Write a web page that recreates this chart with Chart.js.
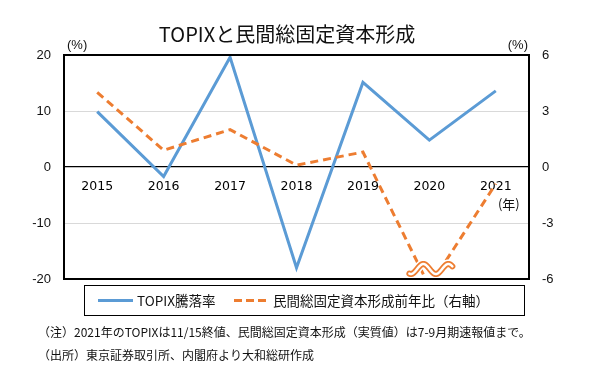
<!DOCTYPE html>
<html><head><meta charset="utf-8">
<script src="https://cdn.jsdelivr.net/npm/chart.js@4.4.1/dist/chart.umd.min.js"></script>
<style>html,body{margin:0;padding:0;background:#fff;}canvas{display:block;}</style>
</head><body>
<canvas id="c" width="593" height="392"></canvas>
<script>
const categories = ['2015', '2016', '2017', '2018', '2019', '2020', '2021'];
const topixChange = [9.9, -1.7, 19.6, -18.0, 15.1, 4.8, 13.6];
const privateGfcf = [4.0, 0.9, 2.0, 0.1, 0.8, -6.4, -0.9];
const leftTicks = [-20, -10, 0, 10, 20];
const rightTicks = [-6, -3, 0, 3, 6];
const seriesNames = ['TOPIX騰落率', '民間総固定資本形成前年比（右軸）'];
const titleText = 'TOPIXと民間総固定資本形成';
const unitText = '(%)';
const yearText = '(年)';
const notes = [
  '（注）2021年のTOPIXは11/15終値、民間総固定資本形成（実質値）は7-9月期速報値まで。',
  '（出所）東京証券取引所、内閣府より大和総研作成'
];
const breakIndex = 5; // 2020 value falls below the right axis range

const BLUE = '#5B9BD5', ORANGE = '#ED7D31';
const CJK = '"Noto Sans CJK JP", "Noto Sans", sans-serif';

const decor = {
  id: 'decor',
  afterDraw(chart) {
    const { ctx, chartArea: a, scales } = chart;
    const xs = scales.x;
    ctx.save();
    // axis break wave at the off-scale point
    const cx = xs.getPixelForValue(breakIndex);
    const cy = a.bottom - 10;
    const wave = () => {
      ctx.beginPath();
      for (let dx = -20; dx <= 23; dx += 0.5) {
        const y = cy - 5 * Math.cos(2 * Math.PI * (dx + 6) / 25);
        if (dx === -20) ctx.moveTo(cx + dx, y); else ctx.lineTo(cx + dx, y);
      }
    };
    ctx.lineCap = 'round';
    wave(); ctx.strokeStyle = '#fff'; ctx.lineWidth = 9; ctx.stroke();
    wave(); ctx.strokeStyle = ORANGE; ctx.lineWidth = 6; ctx.stroke();
    wave(); ctx.strokeStyle = '#fff'; ctx.lineWidth = 2.5; ctx.stroke();

    // plot frame
    ctx.lineCap = 'butt';
    ctx.strokeStyle = '#000';
    ctx.lineWidth = 2;
    ctx.strokeRect(a.left, a.top, a.right - a.left, a.bottom - a.top);

    // title
    ctx.fillStyle = '#111';
    ctx.textBaseline = 'middle';
    ctx.textAlign = 'center';
    ctx.font = '20px ' + CJK;
    ctx.fillText(titleText, 287, 34);

    // unit labels
    ctx.font = '13px "Liberation Sans", sans-serif';
    ctx.textAlign = 'left';
    ctx.fillText(unitText, a.left + 3, 45);
    ctx.textAlign = 'right';
    ctx.fillText(unitText, a.right - 1, 45);

    // year label
    ctx.textAlign = 'center';
    ctx.font = '13px ' + CJK;
    ctx.fillText(yearText, xs.getPixelForValue(categories.length - 1) + 13, 204);

    // legend box
    ctx.strokeStyle = '#000';
    ctx.lineWidth = 1;
    ctx.strokeRect(84.5, 285.5, 440, 30);
    const ly = 300.5;
    ctx.lineWidth = 3;
    ctx.strokeStyle = BLUE;
    ctx.beginPath(); ctx.moveTo(98, ly); ctx.lineTo(133, ly); ctx.stroke();
    ctx.strokeStyle = ORANGE;
    ctx.setLineDash([8, 4]);
    ctx.beginPath(); ctx.moveTo(234, ly); ctx.lineTo(266, ly); ctx.stroke();
    ctx.setLineDash([]);
    ctx.textAlign = 'left';
    ctx.fillStyle = '#111';
    ctx.font = '13.5px ' + CJK;
    ctx.fillText(seriesNames[0], 137, ly);
    ctx.fillText(seriesNames[1], 273, ly);

    // notes
    ctx.font = '12px ' + CJK;
    ctx.fillText(notes[0], 38, 332);
    ctx.fillText(notes[1], 38, 355);
    ctx.restore();
  }
};

new Chart(document.getElementById('c'), {
  type: 'line',
  data: {
    labels: categories,
    datasets: [
      { label: seriesNames[0], data: topixChange, yAxisID: 'y', borderColor: BLUE, backgroundColor: BLUE,
        borderWidth: 3, pointRadius: 0, tension: 0, fill: false, order: 1 },
      { label: seriesNames[1], data: privateGfcf, yAxisID: 'y1', borderColor: ORANGE, backgroundColor: ORANGE,
        borderWidth: 3, borderDash: [8, 5], pointRadius: 0, tension: 0, fill: false, order: 0 }
    ]
  },
  options: {
    responsive: false,
    animation: false,
    devicePixelRatio: 1,
    layout: { padding: { top: 55, bottom: 113, left: 0, right: 0 } },
    plugins: { legend: { display: false }, title: { display: false }, tooltip: { enabled: false } },
    scales: {
      x: {
        type: 'category',
        position: { y: 0 },
        offset: true,
        grid: { display: false, drawTicks: false },
        border: { display: false },
        ticks: { padding: 12, color: '#000', maxRotation: 0, autoSkip: false,
                 font: { family: 'DejaVu Sans', size: 12.5 } }
      },
      y: {
        position: 'left',
        min: -20, max: 20,
        afterBuildTicks: s => { s.ticks = leftTicks.map(v => ({ value: v })); },
        afterFit: s => { s.width = 64; },
        grid: { color: c => c.tick.value === 0 ? '#000' : '#d9d9d9', lineWidth: c => c.tick.value === 0 ? 1.3 : 1, drawTicks: false },
        border: { display: false },
        ticks: { padding: 13, color: '#111', font: { family: 'Liberation Sans', size: 13 } }
      },
      y1: {
        position: 'right',
        min: -6, max: 6,
        afterBuildTicks: s => { s.ticks = rightTicks.map(v => ({ value: v })); },
        afterFit: s => { s.width = 64; },
        grid: { display: false, drawTicks: false },
        border: { display: false },
        ticks: { padding: 13, color: '#111', font: { family: 'Liberation Sans', size: 13 } }
      }
    }
  },
  plugins: [decor]
});
</script>
</body></html>
